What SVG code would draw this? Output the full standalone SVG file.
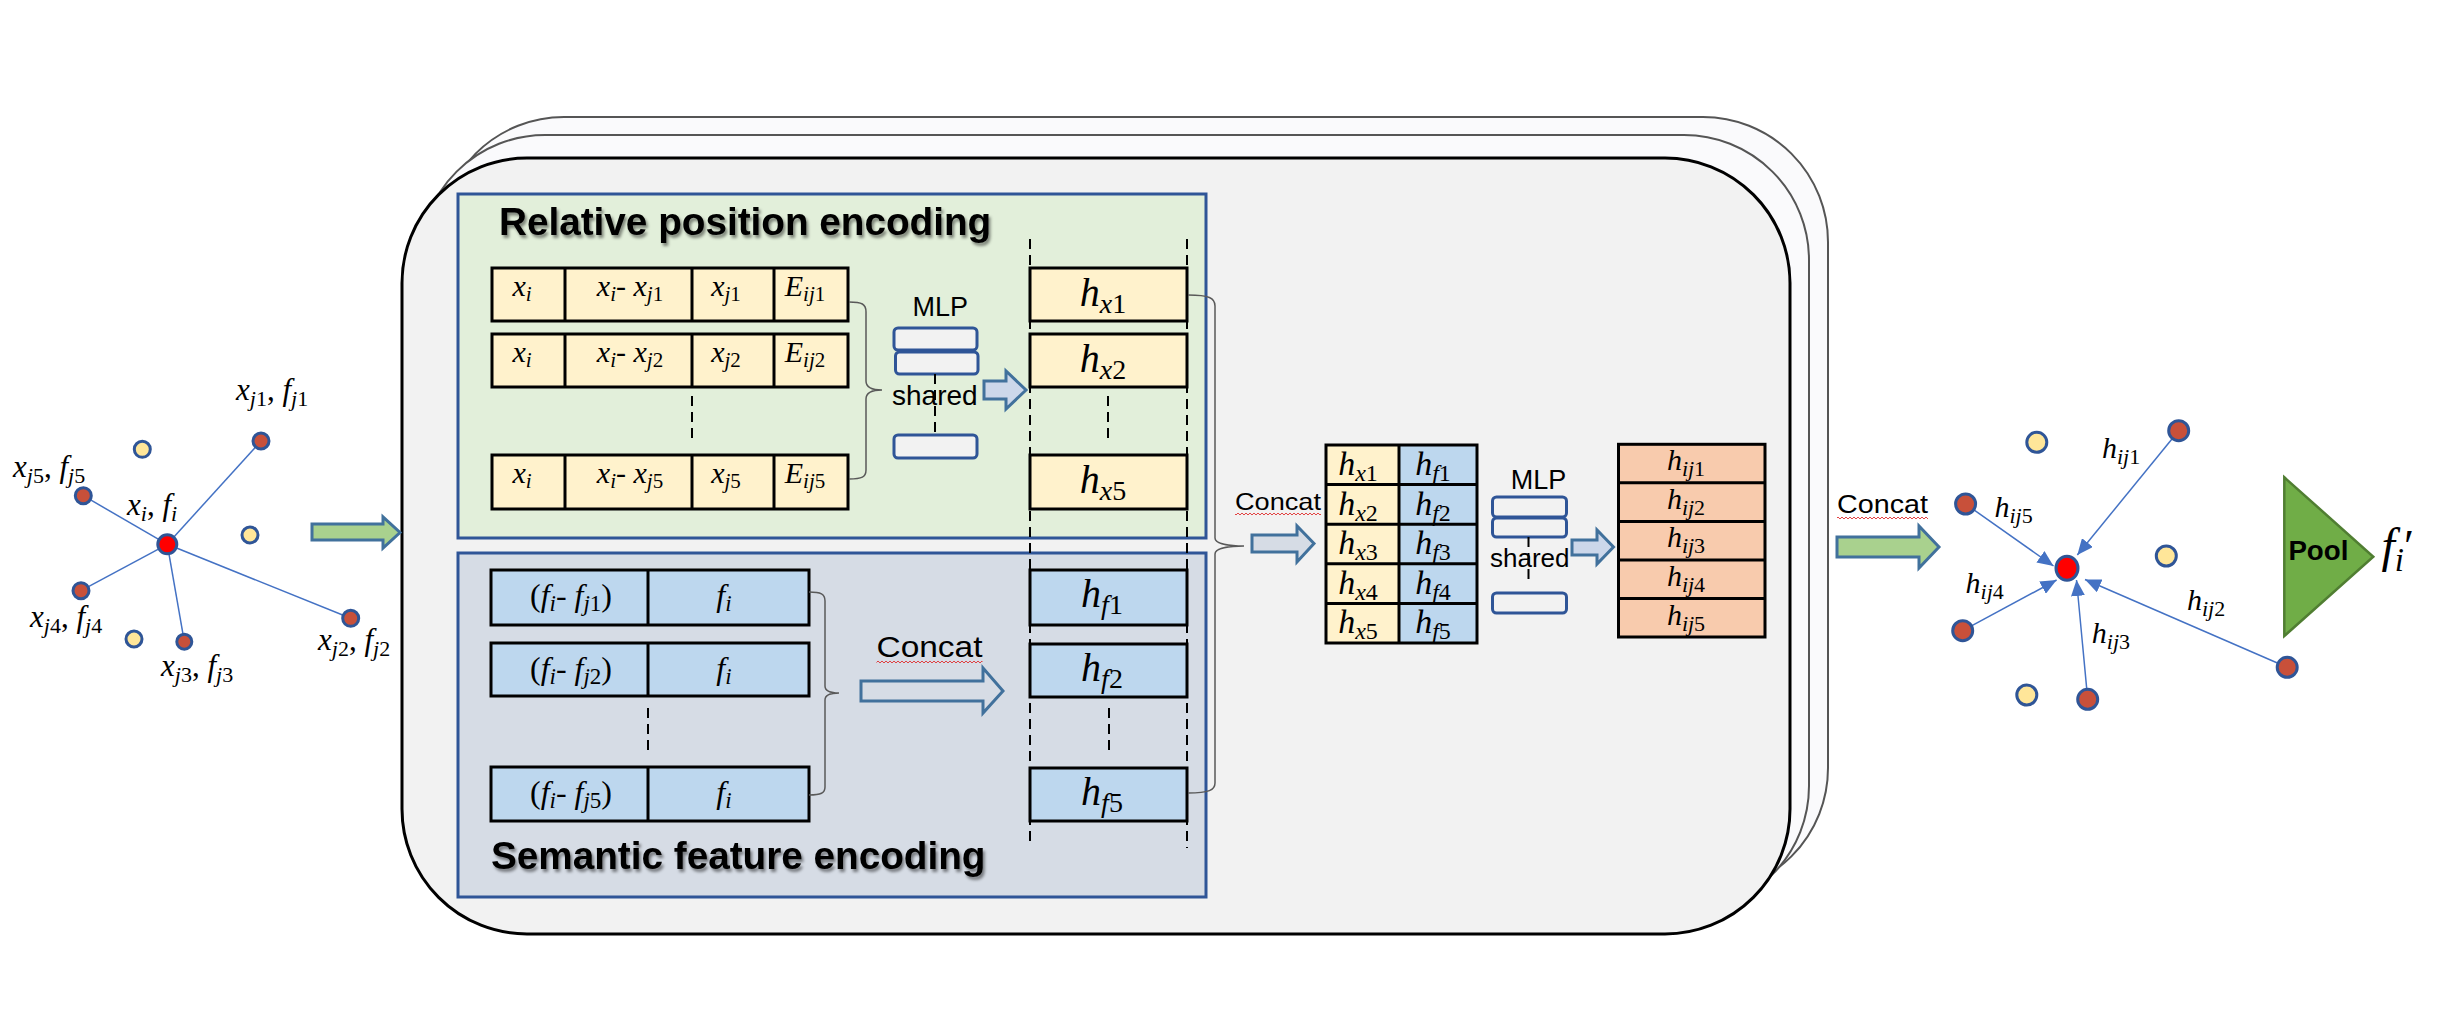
<svg xmlns="http://www.w3.org/2000/svg" width="2449" height="1029" viewBox="0 0 2449 1029">
<defs>
<style>
.m{font-family:"Liberation Serif","Times New Roman",serif;font-style:italic;fill:#000}
.n{font-style:normal}
.s{font-family:"Liberation Sans",Arial,sans-serif;fill:#000}
.title{font-family:"Liberation Sans",Arial,sans-serif;font-weight:bold;font-size:38.7px;fill:#000}
.cellY{fill:#fff2cc;stroke:#000;stroke-width:3}
.cellB{fill:#bdd7ee;stroke:#000;stroke-width:3}
.cellO{fill:#f8cbad;stroke:#000;stroke-width:3}
.div{stroke:#000;stroke-width:3}
.dash{stroke:#000;stroke-width:2;stroke-dasharray:10,6;fill:none}
.brace{fill:none;stroke:#595959;stroke-width:1.5}
.mlp{fill:#f2f2f2;stroke:#2f5597;stroke-width:3}
.arrB{fill:#d6dce5;stroke:#41719c;stroke-width:3}
.arrL{fill:#ccd7ea;stroke:#41719c;stroke-width:3}
.arrG{fill:#a9d18e;stroke:#41719c;stroke-width:3}
.edge{stroke:#4472c4;stroke-width:1.5;fill:none}
.nb{fill:#c8503a;stroke:#2f5597;stroke-width:3}
.ny{fill:#ffe699;stroke:#2f5597;stroke-width:3}
.nr{fill:#ff0000;stroke:#2f5597;stroke-width:3}
</style>
<filter id="sh" x="-5%" y="-30%" width="110%" height="160%"><feDropShadow dx="2" dy="3" stdDeviation="1.8" flood-color="#000" flood-opacity="0.45"/></filter>
<pattern id="wavy" width="4" height="4" patternUnits="userSpaceOnUse"><path d="M0,3 L2,1 L4,3" stroke="#e03030" stroke-width="0.9" fill="none"/></pattern>
<marker id="ah" markerUnits="userSpaceOnUse" markerWidth="18" markerHeight="14" refX="16" refY="7" orient="auto"><path d="M0,0 L16,7 L0,14 z" fill="#4472c4"/></marker>
</defs>
<rect width="2449" height="1029" fill="#ffffff"/>

<!-- stacked frames -->
<g id="frames">
<rect x="439" y="117" width="1389" height="776" rx="125" ry="125" fill="#fafafc" stroke="#555" stroke-width="2"/>
<rect x="420" y="135" width="1389" height="776" rx="125" ry="125" fill="#fafafc" stroke="#555" stroke-width="2"/>
<rect x="402" y="158" width="1388" height="776" rx="125" ry="125" fill="#f2f2f2" stroke="#000" stroke-width="3"/>
</g>

<g id="relative-position-encoding">
<rect x="458" y="194" width="748" height="344" fill="#e2efda" stroke="#2f5597" stroke-width="3"/>
<text class="title" x="499" y="235" filter="url(#sh)">Relative position encoding</text>
</g>
<g id="semantic-feature-encoding">
<rect x="458" y="553" width="748" height="344" fill="#d6dce5" stroke="#2f5597" stroke-width="3"/>
<text class="title" x="491" y="869" filter="url(#sh)">Semantic feature encoding</text>
</g>

<!-- long dashed guide lines -->
<g id="guides">
<line class="dash" x1="1030" y1="239" x2="1030" y2="847"/>
<line class="dash" x1="1187" y1="239" x2="1187" y2="848"/>
<line class="dash" x1="692" y1="396" x2="692" y2="442"/>
<line class="dash" x1="1108" y1="396" x2="1108" y2="442"/>
<line class="dash" x1="648" y1="708" x2="648" y2="754"/>
<line class="dash" x1="1109" y1="708" x2="1109" y2="754"/>
</g>

<!-- position input rows -->
<g id="pos-row-1">
<rect class="cellY" x="492" y="268" width="356" height="53"/>
<line class="div" x1="565" y1="268" x2="565" y2="321"/><line class="div" x1="692" y1="268" x2="692" y2="321"/><line class="div" x1="774" y1="268" x2="774" y2="321"/>
<text class="m" font-size="30" text-anchor="middle" x="522" y="296">x<tspan dy="5" font-size="21">i</tspan></text>
<text class="m" font-size="30" text-anchor="middle" x="630" y="296">x<tspan dy="5" font-size="21">i</tspan><tspan dy="-5" class="n">-  </tspan>x<tspan dy="5" font-size="21">j<tspan class="n">1</tspan></tspan></text>
<text class="m" font-size="30" text-anchor="middle" x="726" y="296">x<tspan dy="5" font-size="21">j<tspan class="n">1</tspan></tspan></text>
<text class="m" font-size="30" text-anchor="middle" x="805" y="296">E<tspan dy="5" font-size="21">ij<tspan class="n">1</tspan></tspan></text>
</g>
<g id="pos-row-2">
<rect class="cellY" x="492" y="334" width="356" height="53"/>
<line class="div" x1="565" y1="334" x2="565" y2="387"/><line class="div" x1="692" y1="334" x2="692" y2="387"/><line class="div" x1="774" y1="334" x2="774" y2="387"/>
<text class="m" font-size="30" text-anchor="middle" x="522" y="362">x<tspan dy="5" font-size="21">i</tspan></text>
<text class="m" font-size="30" text-anchor="middle" x="630" y="362">x<tspan dy="5" font-size="21">i</tspan><tspan dy="-5" class="n">-  </tspan>x<tspan dy="5" font-size="21">j<tspan class="n">2</tspan></tspan></text>
<text class="m" font-size="30" text-anchor="middle" x="726" y="362">x<tspan dy="5" font-size="21">j<tspan class="n">2</tspan></tspan></text>
<text class="m" font-size="30" text-anchor="middle" x="805" y="362">E<tspan dy="5" font-size="21">ij<tspan class="n">2</tspan></tspan></text>
</g>
<g id="pos-row-5">
<rect class="cellY" x="492" y="455" width="356" height="54"/>
<line class="div" x1="565" y1="455" x2="565" y2="509"/><line class="div" x1="692" y1="455" x2="692" y2="509"/><line class="div" x1="774" y1="455" x2="774" y2="509"/>
<text class="m" font-size="30" text-anchor="middle" x="522" y="483">x<tspan dy="5" font-size="21">i</tspan></text>
<text class="m" font-size="30" text-anchor="middle" x="630" y="483">x<tspan dy="5" font-size="21">i</tspan><tspan dy="-5" class="n">-  </tspan>x<tspan dy="5" font-size="21">j<tspan class="n">5</tspan></tspan></text>
<text class="m" font-size="30" text-anchor="middle" x="726" y="483">x<tspan dy="5" font-size="21">j<tspan class="n">5</tspan></tspan></text>
<text class="m" font-size="30" text-anchor="middle" x="805" y="483">E<tspan dy="5" font-size="21">ij<tspan class="n">5</tspan></tspan></text>
</g>

<!-- MLP shared (position) -->
<g id="mlp-1">
<text class="s" font-size="27" x="912.6" y="316">MLP</text>
<rect class="mlp" x="894" y="328" width="83" height="22" rx="4"/>
<rect class="mlp" x="895.5" y="352" width="82.5" height="22" rx="4"/>
<text class="s" font-size="28" x="892" y="405">shared</text>
<line class="dash" x1="935" y1="374" x2="935" y2="433"/>
<rect class="mlp" x="894" y="435" width="83" height="23" rx="4"/>
</g>

<!-- h_x boxes -->
<g id="hx-1"><rect class="cellY" x="1030" y="268" width="157" height="53"/>
<text class="m" font-size="40" text-anchor="middle" x="1103" y="306">h<tspan dy="7" font-size="28">x<tspan class="n">1</tspan></tspan></text></g>
<g id="hx-2"><rect class="cellY" x="1030" y="334" width="157" height="53"/>
<text class="m" font-size="40" text-anchor="middle" x="1103" y="372">h<tspan dy="7" font-size="28">x<tspan class="n">2</tspan></tspan></text></g>
<g id="hx-5"><rect class="cellY" x="1030" y="455" width="157" height="54"/>
<text class="m" font-size="40" text-anchor="middle" x="1103" y="493">h<tspan dy="7" font-size="28">x<tspan class="n">5</tspan></tspan></text></g>

<!-- semantic rows -->
<g id="sem-row-1">
<rect class="cellB" x="491" y="570" width="318" height="55"/>
<line class="div" x1="648" y1="570" x2="648" y2="625"/>
<text class="m" font-size="32" text-anchor="middle" x="571" y="606"><tspan class="n">(</tspan>f<tspan dy="5" font-size="23">i</tspan><tspan dy="-5" class="n">- </tspan>f<tspan dy="5" font-size="23">j<tspan class="n">1</tspan></tspan><tspan dy="-5" class="n">)</tspan></text>
<text class="m" font-size="32" text-anchor="middle" x="724" y="606">f<tspan dy="5" font-size="23">i</tspan></text>
</g>
<g id="sem-row-2">
<rect class="cellB" x="491" y="643" width="318" height="53"/>
<line class="div" x1="648" y1="643" x2="648" y2="696"/>
<text class="m" font-size="32" text-anchor="middle" x="571" y="679"><tspan class="n">(</tspan>f<tspan dy="5" font-size="23">i</tspan><tspan dy="-5" class="n">- </tspan>f<tspan dy="5" font-size="23">j<tspan class="n">2</tspan></tspan><tspan dy="-5" class="n">)</tspan></text>
<text class="m" font-size="32" text-anchor="middle" x="724" y="679">f<tspan dy="5" font-size="23">i</tspan></text>
</g>
<g id="sem-row-5">
<rect class="cellB" x="491" y="767" width="318" height="54"/>
<line class="div" x1="648" y1="767" x2="648" y2="821"/>
<text class="m" font-size="32" text-anchor="middle" x="571" y="803"><tspan class="n">(</tspan>f<tspan dy="5" font-size="23">i</tspan><tspan dy="-5" class="n">- </tspan>f<tspan dy="5" font-size="23">j<tspan class="n">5</tspan></tspan><tspan dy="-5" class="n">)</tspan></text>
<text class="m" font-size="32" text-anchor="middle" x="724" y="803">f<tspan dy="5" font-size="23">i</tspan></text>
</g>

<g id="concat-1">
<text class="s" font-size="30" x="876.5" y="656.7" textLength="106" lengthAdjust="spacingAndGlyphs">Concat</text>
<rect x="876.5" y="659" width="106" height="4" fill="url(#wavy)"/>
</g>

<!-- h_f boxes -->
<g id="hf-1"><rect class="cellB" x="1030" y="570" width="157" height="55"/>
<text class="m" font-size="40" text-anchor="middle" x="1102" y="607">h<tspan dy="7" font-size="28">f<tspan class="n">1</tspan></tspan></text></g>
<g id="hf-2"><rect class="cellB" x="1030" y="644" width="157" height="53"/>
<text class="m" font-size="40" text-anchor="middle" x="1102" y="681">h<tspan dy="7" font-size="28">f<tspan class="n">2</tspan></tspan></text></g>
<g id="hf-5"><rect class="cellB" x="1030" y="768" width="157" height="53"/>
<text class="m" font-size="40" text-anchor="middle" x="1102" y="805">h<tspan dy="7" font-size="28">f<tspan class="n">5</tspan></tspan></text></g>

<g id="concat-2">
<text class="s" font-size="24" x="1235" y="510" textLength="86" lengthAdjust="spacingAndGlyphs">Concat</text>
<rect x="1235" y="512" width="86" height="4" fill="url(#wavy)"/>
</g>

<!-- concatenated table -->
<g id="concat-table">
<rect x="1326" y="445" width="73" height="198" fill="#fff2cc"/>
<rect x="1399" y="445" width="78" height="198" fill="#bdd7ee"/>
<rect x="1326" y="445" width="151" height="198" fill="none" stroke="#000" stroke-width="3"/>
<line class="div" x1="1399" y1="445" x2="1399" y2="643"/>
<line class="div" x1="1326" y1="484.6" x2="1477" y2="484.6"/>
<line class="div" x1="1326" y1="524.2" x2="1477" y2="524.2"/>
<line class="div" x1="1326" y1="563.8" x2="1477" y2="563.8"/>
<line class="div" x1="1326" y1="603.4" x2="1477" y2="603.4"/>
<g class="m" font-size="34" text-anchor="middle">
<text x="1358" y="475">h<tspan dy="6" font-size="24">x<tspan class="n">1</tspan></tspan></text>
<text x="1358" y="514.6">h<tspan dy="6" font-size="24">x<tspan class="n">2</tspan></tspan></text>
<text x="1358" y="554.2">h<tspan dy="6" font-size="24">x<tspan class="n">3</tspan></tspan></text>
<text x="1358" y="593.8">h<tspan dy="6" font-size="24">x<tspan class="n">4</tspan></tspan></text>
<text x="1358" y="633.4">h<tspan dy="6" font-size="24">x<tspan class="n">5</tspan></tspan></text>
<text x="1433" y="475">h<tspan dy="6" font-size="24">f<tspan class="n">1</tspan></tspan></text>
<text x="1433" y="514.6">h<tspan dy="6" font-size="24">f<tspan class="n">2</tspan></tspan></text>
<text x="1433" y="554.2">h<tspan dy="6" font-size="24">f<tspan class="n">3</tspan></tspan></text>
<text x="1433" y="593.8">h<tspan dy="6" font-size="24">f<tspan class="n">4</tspan></tspan></text>
<text x="1433" y="633.4">h<tspan dy="6" font-size="24">f<tspan class="n">5</tspan></tspan></text>
</g>
</g>

<g id="mlp-2">
<text class="s" font-size="27" x="1510.7" y="489.3">MLP</text>
<rect class="mlp" x="1492.5" y="497" width="74" height="20" rx="4"/>
<rect class="mlp" x="1492.5" y="518" width="74" height="19" rx="4"/>
<text class="s" font-size="26" x="1490" y="566.7">shared</text>
<line class="dash" x1="1528.5" y1="537" x2="1528.5" y2="583"/>
<rect class="mlp" x="1492.5" y="593" width="74" height="20" rx="4"/>
</g>

<g id="hij-table">
<rect class="cellO" x="1618.5" y="444.3" width="146.5" height="192.7"/>
<line class="div" x1="1618.5" y1="482.8" x2="1765" y2="482.8"/>
<line class="div" x1="1618.5" y1="521.4" x2="1765" y2="521.4"/>
<line class="div" x1="1618.5" y1="559.9" x2="1765" y2="559.9"/>
<line class="div" x1="1618.5" y1="598.5" x2="1765" y2="598.5"/>
<g class="m" font-size="30" text-anchor="middle">
<text x="1686" y="470.3">h<tspan dy="6" font-size="22">ij<tspan class="n">1</tspan></tspan></text>
<text x="1686" y="508.8">h<tspan dy="6" font-size="22">ij<tspan class="n">2</tspan></tspan></text>
<text x="1686" y="547.4">h<tspan dy="6" font-size="22">ij<tspan class="n">3</tspan></tspan></text>
<text x="1686" y="585.9">h<tspan dy="6" font-size="22">ij<tspan class="n">4</tspan></tspan></text>
<text x="1686" y="624.5">h<tspan dy="6" font-size="22">ij<tspan class="n">5</tspan></tspan></text>
</g>
</g>

<g id="concat-3">
<text class="s" font-size="26" x="1837" y="513.3" textLength="91" lengthAdjust="spacingAndGlyphs">Concat</text>
<rect x="1837" y="515.5" width="91" height="4" fill="url(#wavy)"/>
</g>

<!-- left point graph -->
<g id="left-graph">
<line class="edge" x1="167.3" y1="544.3" x2="261" y2="441"/>
<line class="edge" x1="167.3" y1="544.3" x2="83.3" y2="495.7"/>
<line class="edge" x1="167.3" y1="544.3" x2="81" y2="590.7"/>
<line class="edge" x1="167.3" y1="544.3" x2="184.3" y2="641.7"/>
<line class="edge" x1="167.3" y1="544.3" x2="350.7" y2="618.3"/>
<circle class="ny" cx="142.3" cy="449.3" r="8"/>
<circle class="ny" cx="250" cy="535" r="8"/>
<circle class="ny" cx="134" cy="639" r="8"/>
<circle class="nb" cx="261" cy="441" r="8"/>
<circle class="nb" cx="83.3" cy="495.7" r="8"/>
<circle class="nb" cx="81" cy="590.7" r="8"/>
<circle class="nb" cx="184.3" cy="641.7" r="7.5"/>
<circle class="nb" cx="350.7" cy="618.3" r="8"/>
<circle class="nr" cx="167.3" cy="544.3" r="9.5"/>
<g class="m" font-size="31">
<text x="236" y="400">x<tspan dy="6" font-size="22">j<tspan class="n">1</tspan></tspan><tspan dy="-6" class="n">, </tspan>f<tspan dy="6" font-size="22">j<tspan class="n">1</tspan></tspan></text>
<text x="13" y="477">x<tspan dy="6" font-size="22">j<tspan class="n">5</tspan></tspan><tspan dy="-6" class="n">, </tspan>f<tspan dy="6" font-size="22">j<tspan class="n">5</tspan></tspan></text>
<text x="127" y="515">x<tspan dy="6" font-size="22">i</tspan><tspan dy="-6" class="n">, </tspan>f<tspan dy="6" font-size="22">i</tspan></text>
<text x="30" y="627">x<tspan dy="6" font-size="22">j<tspan class="n">4</tspan></tspan><tspan dy="-6" class="n">, </tspan>f<tspan dy="6" font-size="22">j<tspan class="n">4</tspan></tspan></text>
<text x="161" y="676">x<tspan dy="6" font-size="22">j<tspan class="n">3</tspan></tspan><tspan dy="-6" class="n">, </tspan>f<tspan dy="6" font-size="22">j<tspan class="n">3</tspan></tspan></text>
<text x="318" y="649.5">x<tspan dy="6" font-size="22">j<tspan class="n">2</tspan></tspan><tspan dy="-6" class="n">, </tspan>f<tspan dy="6" font-size="22">j<tspan class="n">2</tspan></tspan></text>
</g>
</g>

<!-- right point graph -->
<g id="right-graph">
<line class="edge" x1="2178.7" y1="430.7" x2="2077.3" y2="555" marker-end="url(#ah)"/>
<line class="edge" x1="1965.6" y1="504" x2="2053.5" y2="566" marker-end="url(#ah)"/>
<line class="edge" x1="1962.7" y1="630.7" x2="2056.6" y2="580" marker-end="url(#ah)"/>
<line class="edge" x1="2087.7" y1="699.3" x2="2076.5" y2="580" marker-end="url(#ah)"/>
<line class="edge" x1="2287.2" y1="667.3" x2="2085" y2="579.5" marker-end="url(#ah)"/>
<circle class="ny" cx="2036.8" cy="442.3" r="10"/>
<circle class="ny" cx="2166.3" cy="556" r="10"/>
<circle class="ny" cx="2026.8" cy="695" r="10"/>
<circle class="nb" cx="2178.7" cy="430.7" r="10"/>
<circle class="nb" cx="1965.6" cy="504" r="10"/>
<circle class="nb" cx="1962.7" cy="630.7" r="10"/>
<circle class="nb" cx="2087.7" cy="699.3" r="10"/>
<circle class="nb" cx="2287.2" cy="667.3" r="10"/>
<ellipse class="nr" cx="2067" cy="568.3" rx="11" ry="12"/>
<g class="m" font-size="30">
<text x="2102" y="458.3">h<tspan dy="6" font-size="22">ij<tspan class="n">1</tspan></tspan></text>
<text x="1994.5" y="516.7">h<tspan dy="6" font-size="22">ij<tspan class="n">5</tspan></tspan></text>
<text x="1965.6" y="593.3">h<tspan dy="6" font-size="22">ij<tspan class="n">4</tspan></tspan></text>
<text x="2091.8" y="643.3">h<tspan dy="6" font-size="22">ij<tspan class="n">3</tspan></tspan></text>
<text x="2187" y="610">h<tspan dy="6" font-size="22">ij<tspan class="n">2</tspan></tspan></text>
</g>
</g>

<g id="pool">
<polygon points="2284.3,477.3 2373.3,556.7 2284.3,636" fill="#70ad47" stroke="#507e32" stroke-width="2.5"/>
<text x="2288.4" y="560" font-family="Liberation Sans, Arial, sans-serif" font-weight="bold" font-size="27" textLength="60" lengthAdjust="spacingAndGlyphs" fill="#000">Pool</text>
</g>
<g id="output">
<text class="m" x="2381.5" y="562" font-size="48">f<tspan dy="9" font-size="33">i</tspan><tspan dy="-9" font-size="46" class="n">′</tspan></text>
</g>

<!-- connectors -->
<g id="connectors">
<polygon class="arrG" points="312,524 383,524 383,517 400,532.5 383,548 383,540 312,540"/>
<path class="brace" d="M849,302 C862,302 866,304 866,312 L866,381 C866,388 872,390 882,390 C872,390 866,392 866,399 L866,470 C866,477 862,479 849,479"/>
<polygon class="arrL" points="984,381 1006,381 1006,371 1026,390 1006,409 1006,399 984,399"/>
<path class="brace" d="M809,592 C821,592 825,594 825,601 L825,686 C825,691 830,693 839,693 C830,693 825,695 825,700 L825,787 C825,793 821,795 809,795"/>
<polygon class="arrB" points="861,681 983,681 983,668 1003,691 983,713 983,701 861,701"/>
<path class="brace" d="M1188,295 C1209,295 1215,298 1215,306 L1215,538 C1215,544 1230,546 1244,546 C1230,546 1215,548 1215,554 L1215,783 C1215,790 1209,793 1188,793"/>
<polygon class="arrB" points="1252,535 1297,535 1297,526 1314,543.5 1297,562 1297,552 1252,552"/>
<polygon class="arrL" points="1572,540 1597,540 1597,530 1613.5,547 1597,564 1597,555 1572,555"/>
<polygon class="arrG" points="1837,537 1919,537 1919,526 1939,547 1919,568 1919,557 1837,557"/>
</g>
</svg>
